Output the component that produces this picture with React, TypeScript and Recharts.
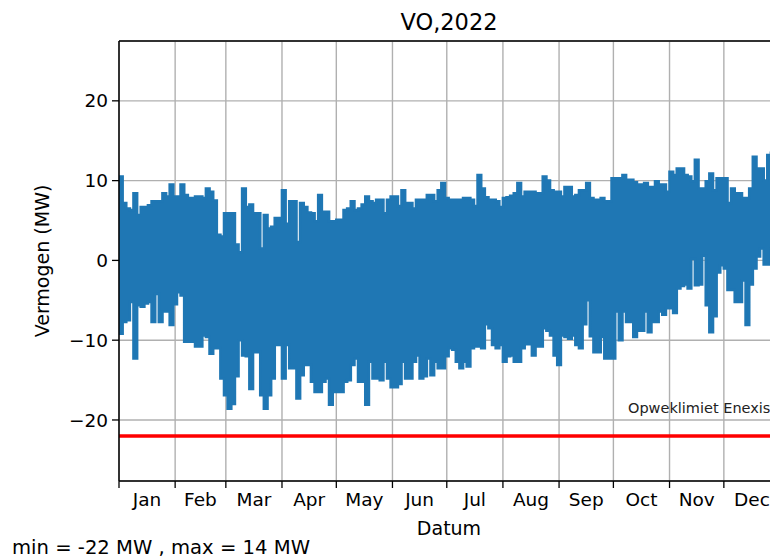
import { AreaChart, Area, XAxis, YAxis, CartesianGrid, ReferenceLine } from 'recharts'

const MONTHS = ['Jan', 'Feb', 'Mar', 'Apr', 'May', 'Jun', 'Jul', 'Aug', 'Sep', 'Oct', 'Nov', 'Dec']
const MONTH_START = [0, 31, 59, 90, 120, 151, 181, 212, 243, 273, 304, 334]
const MONTH_DAYS = [31, 28, 31, 30, 31, 30, 31, 31, 30, 31, 30, 31]
const Y_TICKS = [-20, -10, 0, 10, 20]

// envelope of the hourly power per 2-day block (MW)
const STEP_DAYS = 2
const MAX_MW = [
  10.5, 7.2, 6.5, 6.3, 8.4, 5.7, 6.7, 6.7, 6.9, 7.4,
  7.4, 7.4, 8.4, 8.0, 9.5, 8.0, 8.0, 9.5, 8.2, 7.8,
  7.8, 8.0, 8.0, 7.8, 9.0, 8.6, 7.5, 3.2, 3.0, 5.9,
  5.9, 5.9, 2.0, 1.0, 9.0, 6.7, 7.0, 5.9, 5.9, 1.5,
  5.7, 4.0, 4.2, 5.3, 5.3, 8.8, 4.6, 7.4, 7.4, 2.3,
  7.2, 6.7, 6.0, 5.9, 4.9, 8.2, 6.1, 6.1, 4.9, 4.9,
  5.1, 5.1, 6.3, 6.5, 7.4, 6.3, 6.5, 7.0, 8.0, 7.4,
  7.2, 7.6, 7.6, 5.9, 7.6, 8.0, 8.0, 6.8, 8.8, 7.2,
  7.2, 6.5, 7.6, 7.6, 7.6, 8.2, 8.2, 7.4, 8.8, 9.7,
  7.8, 7.6, 7.6, 7.6, 7.6, 7.8, 7.8, 7.6, 6.8, 10.7,
  9.0, 7.9, 7.6, 7.6, 7.4, 6.7, 7.8, 7.9, 8.1, 8.4,
  9.7, 8.0, 8.6, 8.6, 8.6, 8.4, 8.4, 10.5, 10.0, 8.8,
  8.6, 8.6, 8.0, 9.2, 9.2, 8.0, 8.2, 8.8, 8.8, 9.7,
  7.8, 7.6, 7.6, 7.8, 7.4, 7.4, 10.3, 10.3, 10.3, 10.7,
  10.1, 10.1, 9.8, 9.5, 9.5, 9.7, 9.2, 9.2, 9.9, 9.5,
  9.5, 8.6, 11.1, 10.7, 11.5, 11.5, 10.7, 10.5, 9.9, 12.6,
  9.0, 9.0, 9.9, 10.9, 8.8, 10.3, 10.3, 10.3, 7.2, 9.0,
  8.4, 8.4, 7.8, 7.8, 9.0, 13.0, 11.5, 11.5, 10.0, 13.2,
  13.5, 12.5, 13.0,
]
const MIN_MW = [
  -9.2, -7.7, -7.5, -5.2, -12.3, -5.6, -5.8, -5.4, -5.2, -7.7,
  -4.2, -7.7, -6.4, -6.4, -8.1, -5.5, -4.0, -4.4, -10.2, -10.2,
  -10.2, -10.8, -10.8, -9.4, -9.6, -11.7, -11.0, -11.0, -14.8, -16.9,
  -18.6, -18.0, -14.5, -10.0, -11.9, -12.0, -16.1, -11.5, -11.5, -16.9,
  -18.6, -16.9, -14.8, -10.6, -10.6, -14.8, -10.6, -13.5, -13.5, -17.3,
  -14.4, -13.1, -13.1, -15.2, -16.5, -16.5, -15.2, -14.8, -18.1, -16.5,
  -16.5, -16.5, -15.2, -15.0, -13.1, -12.3, -15.2, -15.2, -18.1, -12.7,
  -14.8, -14.8, -15.0, -12.7, -14.8, -15.9, -15.9, -15.5, -12.7, -14.8,
  -14.8, -12.7, -11.9, -14.8, -14.5, -12.3, -14.4, -12.7, -13.5, -13.5,
  -12.0, -11.0, -11.2, -12.7, -13.5, -12.7, -13.3, -11.0, -10.8, -10.8,
  -11.0, -8.0, -8.5, -10.6, -11.0, -10.6, -12.7, -12.0, -11.9, -12.7,
  -12.7, -11.0, -10.5, -10.5, -11.9, -10.8, -10.8, -8.5, -8.8, -9.4,
  -11.9, -13.1, -9.4, -9.6, -9.8, -9.4, -10.6, -11.0, -8.0, -5.0,
  -9.5, -11.5, -11.5, -9.6, -12.3, -12.3, -12.3, -6.4, -10.0, -6.4,
  -7.7, -7.7, -9.6, -8.8, -8.8, -6.4, -9.0, -7.7, -7.7, -6.4,
  -6.8, -6.0, -6.0, -6.6, -3.5, -3.2, -3.0, -3.5, 0.2, -3.1,
  -3.0, 0.6, -5.6, -9.0, -7.0, -1.5, -0.6, -1.0, -3.7, -3.7,
  -5.2, -5.2, -2.5, -8.1, -3.0, -1.0, 0.5, 1.5, -0.5, -0.5,
  1.5, 0.5, 1.0,
]

const LIMIT_MW = -22
const LIMIT_LABEL = 'Opweklimiet Enexis'
const Y_DOMAIN: [number, number] = [-27.65, 27.5]

const CHART_W = 800
const CHART_H = 559
const MARGIN = { top: 41, right: 20, bottom: 48, left: 0 }
const Y_AXIS_W = 119
const PX_PER_DAY = (CHART_W - MARGIN.left - MARGIN.right - Y_AXIS_W) / 365

const FONT = '"DejaVu Sans", Verdana, sans-serif'
const BLUE = '#1f77b4'

const series = MAX_MW.map((hi, i) => ({ day: i * STEP_DAYS, range: [MIN_MW[i], hi] }))
series.push({ day: 365, range: series[series.length - 1].range })

const fmtY = (v: number) => (v < 0 ? `\u2212${-v}` : `${v}`)

function MonthTick(props: any) {
  const { x, y, payload } = props
  const i = MONTH_START.indexOf(payload.value)
  if (i < 0) return null
  return (
    <text x={x + (MONTH_DAYS[i] / 2) * PX_PER_DAY} y={y} dy="0.71em" textAnchor="middle"
      fontSize={18.5} fontFamily={FONT} fill="#000">
      {MONTHS[i]}
    </text>
  )
}

export default function App() {
  return (
    <div style={{ position: 'fixed', left: 0, top: 0, width: 770, height: 559, overflow: 'hidden', background: '#fff' }}>
      <AreaChart width={CHART_W} height={CHART_H} data={series} margin={MARGIN}>
        <CartesianGrid stroke="#b0b0b0" strokeWidth={1.4} />
        <XAxis
          dataKey="day"
          type="number"
          domain={[0, 365]}
          ticks={MONTH_START}
          interval={0}
          tick={MonthTick}
          tickSize={7}
          tickMargin={5}
          height={30}
          axisLine={{ stroke: '#000', strokeWidth: 1.5 }}
          tickLine={{ stroke: '#000', strokeWidth: 1.3 }}
          allowDataOverflow
        />
        <YAxis
          type="number"
          domain={Y_DOMAIN}
          ticks={Y_TICKS}
          interval={0}
          width={Y_AXIS_W}
          tickFormatter={fmtY}
          tickSize={7}
          tickMargin={4}
          tick={{ fill: '#000', fontSize: 18.5, fontFamily: FONT }}
          axisLine={{ stroke: '#000', strokeWidth: 1.5 }}
          tickLine={{ stroke: '#000', strokeWidth: 1.3 }}
          allowDataOverflow
        />
        <Area
          type="stepAfter"
          dataKey="range"
          stroke={BLUE}
          strokeWidth={2.6}
          fill={BLUE}
          fillOpacity={1}
          dot={false}
          activeDot={false}
          isAnimationActive={false}
        />
        <ReferenceLine y={LIMIT_MW} stroke="#ff0000" strokeWidth={3.5} />
        <ReferenceLine y={Y_DOMAIN[1]} stroke="#000" strokeWidth={1.5} />
      </AreaChart>
      <svg width={770} height={559} style={{ position: 'absolute', left: 0, top: 0, pointerEvents: 'none' }}
        fontFamily={FONT}>
        <text x={449} y={30} textAnchor="middle" fontSize={22.5} fill="#000">VO,2022</text>
        <text x={449} y={535} textAnchor="middle" fontSize={19} fill="#000">Datum</text>
        <text x={49} y={261} textAnchor="middle" fontSize={19} fill="#000" transform="rotate(-90 49 261)">
          Vermogen (MW)
        </text>
        <text x={628} y={413} fontSize={14.5} fill="#222">{LIMIT_LABEL}</text>
        <text x={12} y={554} fontSize={19.6} fill="#000">min = -22 MW , max = 14 MW</text>
      </svg>
    </div>
  )
}
